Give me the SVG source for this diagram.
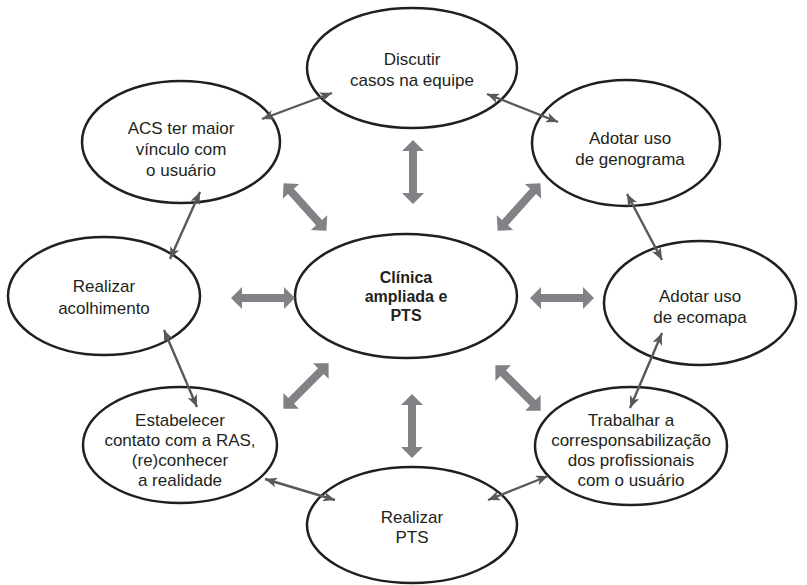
<svg xmlns="http://www.w3.org/2000/svg" xmlns:xlink="http://www.w3.org/1999/xlink" width="807" height="585" viewBox="0 0 807 585">
<style>
.n ellipse{fill:#fff;stroke:#231f20;stroke-width:2.5}
.n text{font-family:"Liberation Sans",Arial,sans-serif;font-size:17px;fill:#231f20;text-anchor:middle}
.n text.b{font-weight:bold;font-size:16px}
.thin line{stroke:#58595b;stroke-width:2.4;marker-start:url(#ah);marker-end:url(#ah)}
.big use{fill:#808285}
</style>
<defs>
<marker id="ah" viewBox="0 0 12 10" refX="12" refY="5" markerWidth="12" markerHeight="10" markerUnits="userSpaceOnUse" orient="auto-start-reverse">
<path d="M0,0 L12,5 L0,10 L3,5 Z" fill="#58595b"/>
</marker>
<polygon id="blk" points="-32,0 -21,-11 -21,-4 21,-4 21,-11 32,0 21,11 21,4 -21,4 -21,11"/>
</defs>
<g id="n-discutir" class="n"><ellipse cx="412" cy="68" rx="105" ry="60"/><text x="412" y="65">Discutir</text><text x="412" y="86">casos na equipe</text></g>
<g id="n-acs" class="n"><ellipse cx="181" cy="142" rx="99" ry="61"/><text x="181" y="134">ACS ter maior</text><text x="181" y="155">vínculo com</text><text x="181" y="176">o usuário</text></g>
<g id="n-genograma" class="n"><ellipse cx="626" cy="143" rx="94" ry="63"/><text x="630" y="144">Adotar uso</text><text x="630" y="165">de genograma</text></g>
<g id="n-acolhimento" class="n"><ellipse cx="104" cy="296" rx="96" ry="59"/><text x="104" y="292">Realizar</text><text x="104" y="314">acolhimento</text></g>
<g id="n-central" class="n"><ellipse cx="406" cy="296" rx="111" ry="62"/><text class="b" x="406" y="283">Clínica</text><text class="b" x="406" y="302">ampliada e</text><text class="b" x="406" y="321">PTS</text></g>
<g id="n-ecomapa" class="n"><ellipse cx="700" cy="303" rx="96" ry="62"/><text x="700" y="302">Adotar uso</text><text x="700" y="323">de ecomapa</text></g>
<g id="n-estabelecer" class="n"><ellipse cx="180" cy="445" rx="97" ry="58"/><text x="180" y="426">Estabelecer</text><text x="180" y="446">contato com a RAS,</text><text x="180" y="466">(re)conhecer</text><text x="180" y="486">a realidade</text></g>
<g id="n-trabalhar" class="n"><ellipse cx="631" cy="446" rx="96" ry="59"/><text x="631" y="426">Trabalhar a</text><text x="631" y="446">corresponsabilização</text><text x="631" y="466">dos profissionais</text><text x="631" y="486">com o usuário</text></g>
<g id="n-pts" class="n"><ellipse cx="412" cy="525" rx="105" ry="58"/><text x="412" y="523">Realizar</text><text x="412" y="543">PTS</text></g>
<g id="connectors">
<g class="thin">
<line x1="262" y1="119" x2="332" y2="93"/>
<line x1="487" y1="94" x2="558" y2="122"/>
<line x1="627" y1="194" x2="662" y2="260"/>
<line x1="662" y1="333" x2="630" y2="408"/>
<line x1="548" y1="476" x2="488" y2="500"/>
<line x1="335" y1="500" x2="265" y2="479"/>
<line x1="197" y1="407" x2="164" y2="330"/>
<line x1="170" y1="259" x2="200" y2="192"/>
</g>
<g class="big">
<use xlink:href="#blk" transform="translate(413,172) rotate(90)"/>
<use xlink:href="#blk" transform="translate(305,207) rotate(48)"/>
<use xlink:href="#blk" transform="translate(519,207) rotate(-48)"/>
<use xlink:href="#blk" transform="translate(263,298)"/>
<use xlink:href="#blk" transform="translate(562,298)"/>
<use xlink:href="#blk" transform="translate(306,386) rotate(-45)"/>
<use xlink:href="#blk" transform="translate(518,388) rotate(45)"/>
<use xlink:href="#blk" transform="translate(412,426) rotate(90)"/>
</g>
</g>
</svg>
